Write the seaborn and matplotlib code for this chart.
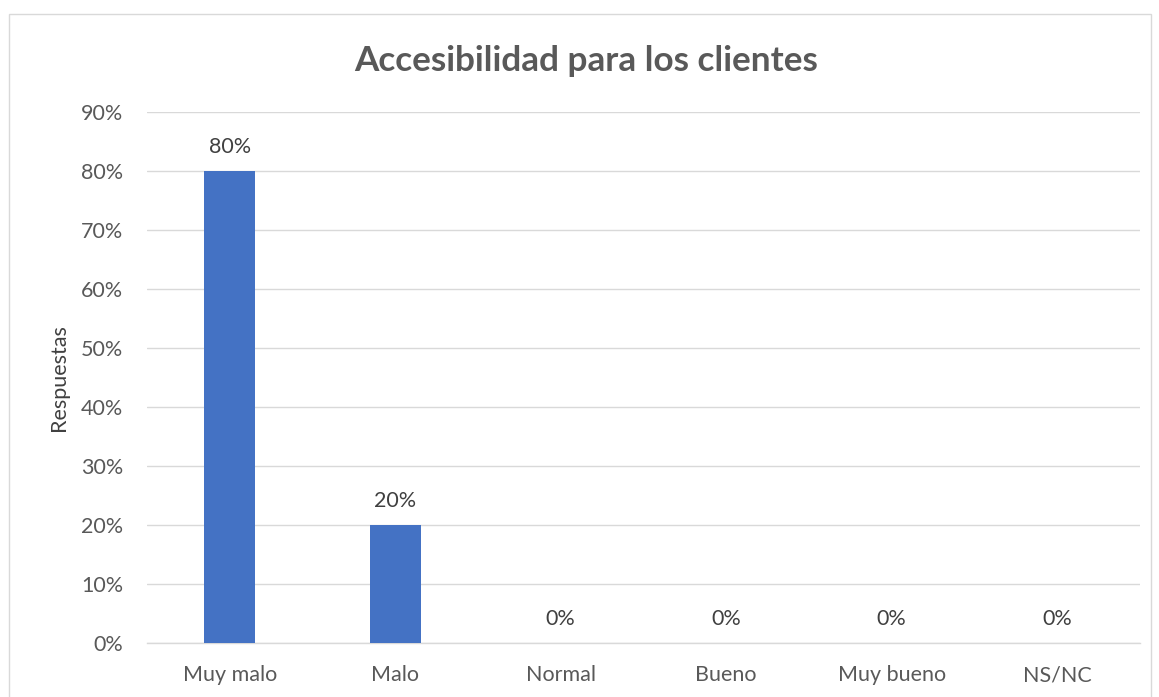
import matplotlib
matplotlib.use("Agg")
import matplotlib.pyplot as plt
import seaborn as sns
import pandas as pd
from matplotlib.patches import Rectangle
from matplotlib.ticker import FuncFormatter, MultipleLocator

categories = ["Muy malo", "Malo", "Normal", "Bueno", "Muy bueno", "NS/NC"]
values = [80, 20, 0, 0, 0, 0]
title = "Accesibilidad para los clientes"
ylabel = "Respuestas"

BAR_COLOR = "#4472C4"
TEXT_COLOR = "#595959"
GRID_COLOR = "#D9D9D9"

sns.set_theme(style="white")
plt.rcParams["font.family"] = ["Lato", "DejaVu Sans"]

df = pd.DataFrame({"cat": categories, "val": values})

fig = plt.figure(figsize=(11.59, 6.97), dpi=100)
ax = fig.add_axes([0.1268, 0.0775, 0.8568, 0.7618])

sns.barplot(data=df, x="cat", y="val", color=BAR_COLOR, width=0.31,
            saturation=1, linewidth=0, ax=ax, zorder=3)

ax.set_ylim(0, 90)
ax.set_xlim(-0.5, len(categories) - 0.5)
ax.yaxis.set_major_locator(MultipleLocator(10))
ax.yaxis.set_major_formatter(FuncFormatter(lambda v, _: f"{v:.0f}%"))
ax.grid(axis="y", color=GRID_COLOR, linewidth=1, zorder=0)
ax.set_axisbelow(True)

for s in ["top", "right", "left"]:
    ax.spines[s].set_visible(False)
ax.spines["bottom"].set_color(GRID_COLOR)
ax.spines["bottom"].set_linewidth(1)

ax.tick_params(axis="both", length=0, labelsize=15.5, colors=TEXT_COLOR)
ax.tick_params(axis="y", pad=17)
ax.tick_params(axis="x", pad=16)
ax.set_xlabel("")
ax.set_ylabel(ylabel, fontsize=15.5, color="#404040", labelpad=9)

for i, v in enumerate(values):
    ax.annotate(f"{v}%", (i, v), xytext=(0, 10), textcoords="offset points",
                ha="center", va="bottom", fontsize=15.5, color="#404040")

fig.text(0.506, 0.912, title, ha="center", va="center",
         fontsize=25.3, fontweight="bold", color=TEXT_COLOR)

fig.patches.append(Rectangle((9 / 1159, -0.01), 1142 / 1159, (697 - 14) / 697 + 0.01,
                             transform=fig.transFigure, fill=False,
                             edgecolor=GRID_COLOR, linewidth=1))

fig.savefig("out.png", dpi=100)
